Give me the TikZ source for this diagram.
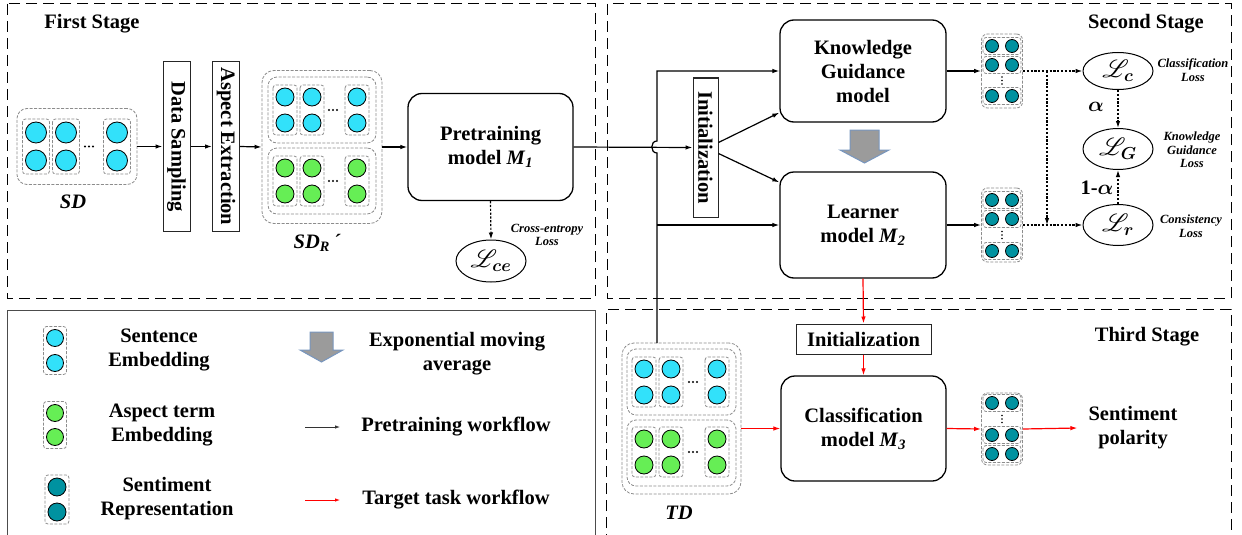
\documentclass[tikz,border=0pt]{standalone}
\usepackage{fontspec}
\setmainfont{Liberation Serif}
\usepackage{amsmath,bm}
\usepackage{mathrsfs}
\usetikzlibrary{arrows.meta,shapes.geometric,calc}
\definecolor{cyanc}{RGB}{50,225,250}
\definecolor{greenc}{RGB}{102,238,85}
\definecolor{tealc}{RGB}{0,146,160}
\definecolor{grpgray}{RGB}{140,140,140}
\definecolor{emafill}{RGB}{155,155,155}
\definecolor{emaedge}{RGB}{120,150,190}
\newcommand{\embcol}[5]{%
  \draw[grp, rounded corners=3pt] ({#1-#4-3},{#2-#3-#4-3}) rectangle ({#1+#4+3},{#2+#3+#4+3});
  \draw[circ, fill=#5] (#1,{#2-#3}) circle[radius=#4];
  \draw[circ, fill=#5] (#1,{#2+#3}) circle[radius=#4];
}
\newcommand{\tealrow}[2]{%
  \draw[grp, rounded corners=3pt] ({#1-19},{#2-8.5}) rectangle ({#1+19},{#2+8.5});
  \draw[circ, fill=tealc] ({#1-10},#2) circle[radius=6.5];
  \draw[circ, fill=tealc] ({#1+10},#2) circle[radius=6.5];
}
\newcommand{\mydotsh}[2]{\foreach \k in {-4,0,4}{\fill ({#1+\k},#2) circle[radius=1.1];}}
\newcommand{\mydotsv}[2]{\foreach \k in {-3.5,0,3.5}{\fill (#1,{#2+\k}) circle[radius=0.8];}}
\newcommand{\emaarrow}[6]{% cx, top, stem half, head half, stem h, head h
  \draw[fill=emafill, draw=emaedge, line width=1pt, line join=miter]
    ({#1-#3},#2) -- ({#1+#3},#2) -- ({#1+#3},{#2+#5}) -- ({#1+#4},{#2+#5})
    -- (#1,{#2+#5+#6}) -- ({#1-#4},{#2+#5}) -- ({#1-#3},{#2+#5}) -- cycle;
}
\begin{document}
\begin{tikzpicture}[x=1pt,y=-1pt,
  lbl/.style={font=\fontsize{20.5}{24}\selectfont\bfseries, align=center},
  small/.style={font=\fontsize{12.5}{13.5}\selectfont\bfseries\itshape, align=center},
  mbox/.style={lbl, draw, line width=1.3pt, rounded corners=14pt, inner sep=0pt},
  pbox/.style={lbl, draw=black!85, line width=1pt, inner sep=0pt},
  grp/.style={draw=grpgray, dash pattern=on 3pt off 1.5pt, line width=0.8pt},
  circ/.style={draw=black, line width=0.8pt},
  stage/.style={draw=black, dash pattern=on 11pt off 6pt, line width=1pt},
  lossell/.style={ellipse, draw, line width=1pt, inner sep=0pt, font=\fontsize{24}{26}\selectfont},
  arr/.style={-{Latex[length=7pt,width=4.5pt]}, line width=1.2pt},
  dotarr/.style={-{Latex[length=7pt,width=4.5pt]}, line width=1.2pt, dash pattern=on 2.2pt off 1.6pt},
  redarr/.style={-{Latex[length=7pt,width=4.5pt]}, line width=1.2pt, red},
]
\useasboundingbox (0,0) rectangle (1242,535);

% stage frames
\draw[stage] (7,4) rectangle (595,298);
\draw[stage] (607,4) rectangle (1231,298);
\draw[stage] (606,545) -- (606,309) -- (1231,309) -- (1231,545);
\draw[draw=black!70, line width=1pt] (7,545) -- (7,310) -- (595,310) -- (595,545);

\node[lbl] (t1) at (92,24) {First Stage};
\node[lbl] (t2) at (1146,24) {Second Stage};
\node[lbl] (t3) at (1147,337) {Third Stage};

% SD group
\node[grp, rounded corners=10pt, minimum width=120pt, minimum height=76pt] (sd) at (77,146.5) {};
\embcol{36}{146.5}{14}{10.5}{cyanc}
\embcol{66}{146.5}{14}{10.5}{cyanc}
\embcol{117}{146.5}{14}{10.5}{cyanc}
\mydotsh{89}{146.5}
\node[lbl, font=\fontsize{20.5}{24}\selectfont\bfseries\itshape] (sdl) at (73,202) {SD};

% rotated boxes
\node[pbox, rotate=-90, minimum width=169pt, minimum height=27pt] (ds) at (176.5,146.5) {Data Sampling};
\node[pbox, rotate=-90, minimum width=169pt, minimum height=27pt] (ae) at (226,146.5) {Aspect Extraction};

% SDR group
\node[grp, rounded corners=12pt, minimum width=120pt, minimum height=153pt] (sdr) at (322,147) {};
\node[grp, rounded corners=9pt, minimum width=108pt, minimum height=66pt] (sdra) at (322,110) {};
\node[grp, rounded corners=9pt, minimum width=108pt, minimum height=66pt] (sdrb) at (322,181) {};
\embcol{285}{110}{13}{9}{cyanc}
\embcol{312}{110}{13}{9}{cyanc}
\embcol{357}{110}{13}{9}{cyanc}
\embcol{285}{181}{13}{9}{greenc}
\embcol{312}{181}{13}{9}{greenc}
\embcol{357}{181}{13}{9}{greenc}
\mydotsh{333}{110}
\mydotsh{333}{181}
\node[lbl, font=\fontsize{20.5}{24}\selectfont\bfseries\itshape] (sdrl) at (317,243) {SD\textsubscript{R}\,´};

% pretraining
\node[mbox, minimum width=165pt, minimum height=107pt] (pre) at (490.5,147) {Pretraining\\model \textit{M}\textsubscript{\textit{1}}};
\node[lossell, minimum width=70pt, minimum height=42pt] (lce) at (491,261) {$\mathscr{L}_{\boldsymbol{ce}}$};
\node[small] (lcet) at (547,235) {Cross-entropy\\Loss};

% second stage
\node[pbox, rotate=-90, minimum width=139pt, minimum height=25pt] (init1) at (705.5,147.5) {Initialization};
\node[mbox, minimum width=166pt, minimum height=102pt] (kg) at (863,71) {Knowledge\\Guidance\\model};
\node[mbox, minimum width=166pt, minimum height=106pt] (lrn) at (863,225) {Learner\\model \textit{M}\textsubscript{\textit{2}}};
\emaarrow{864.5}{130}{14.5}{24.5}{20}{13}

\node[grp, rounded corners=6pt, minimum width=41pt, minimum height=74pt] (tg1) at (1002,71) {};
\tealrow{1002}{46}
\tealrow{1002}{65}
\mydotsv{1002}{80.5}
\tealrow{1002}{96}
\node[grp, rounded corners=6pt, minimum width=41pt, minimum height=74pt] (tg2) at (1002,225) {};
\tealrow{1002}{200}
\tealrow{1002}{219}
\mydotsv{1002}{235}
\tealrow{1002}{251}

\node[lossell, minimum width=70pt, minimum height=37pt] (lc) at (1118,71) {$\mathscr{L}_{\boldsymbol{c}}$};
\node[lossell, minimum width=70pt, minimum height=41pt] (lg) at (1118,149) {$\mathscr{L}_{\boldsymbol{G}}$};
\node[lossell, minimum width=70pt, minimum height=41pt] (lr) at (1118,225) {$\mathscr{L}_{\boldsymbol{r}}$};
\node[small] (lct) at (1193,70) {Classification\\Loss};
\node[small] (lgt) at (1192,150) {Knowledge\\Guidance\\Loss};
\node[small] (lrt) at (1191,226) {Consistency\\Loss};
\node[lbl] (alab) at (1096,107) {$\boldsymbol{\alpha}$};
\node[lbl] (blab) at (1097,188) {1-$\boldsymbol{\alpha}$};

% third stage
\node[grp, rounded corners=12pt, minimum width=119pt, minimum height=151pt] (td) at (681.5,418.5) {};
\node[grp, rounded corners=9pt, minimum width=109pt, minimum height=66pt] (tda) at (681.5,382) {};
\node[grp, rounded corners=9pt, minimum width=109pt, minimum height=66pt] (tdb) at (681.5,453) {};
\embcol{644}{382}{13}{9}{cyanc}
\embcol{671}{382}{13}{9}{cyanc}
\embcol{717}{382}{13}{9}{cyanc}
\embcol{644}{452}{13}{9}{greenc}
\embcol{671}{452}{13}{9}{greenc}
\embcol{717}{452}{13}{9}{greenc}
\mydotsh{693}{382}
\mydotsh{693}{452}
\node[lbl, font=\fontsize{20.5}{24}\selectfont\bfseries\itshape] (tdl) at (679,513) {TD};

\node[pbox, minimum width=135pt, minimum height=30pt] (init2) at (863.5,339) {Initialization};
\node[mbox, minimum width=165pt, minimum height=105pt] (cls) at (863.5,428.5) {Classification\\model \textit{M}\textsubscript{\textit{3}}};
\node[grp, rounded corners=6pt, minimum width=41pt, minimum height=72pt] (tg3) at (1002,429) {};
\tealrow{1002}{403}
\mydotsv{1002}{419}
\tealrow{1002}{435}
\tealrow{1002}{454}
\node[lbl, inner sep=1pt] (sp) at (1133,428) {Sentiment\\polarity};

% connectors first stage
\draw[arr] (sd.east) -- (ds.south);
\draw[arr] (ds.north) -- (ae.south);
\draw[arr] (ae.north) -- (sdr.west);
\draw[arr] (sdr.east) -- (pre.west);
\draw[dotarr] (pre.south) -- (lce.north);
\draw[arr] (pre.east) -- (init1.south);

% vertical feed line with hop
\coordinate (vbot) at (657,343);
\coordinate (vtop) at (657,71);
\coordinate (vmid) at (657,225);
\draw[arr] (vbot) -- (657,153) .. controls (650,153) and (650,141) .. (657,141) -- (vtop) -- (kg.west);
\draw[arr] (vmid) -- (lrn.west);
\draw[arr] ([yshift=5pt]init1.north) -- ([yshift=10pt]kg.south west);
\draw[arr] ([yshift=-6pt]init1.north) -- ([yshift=-11pt]lrn.north west);

\draw[arr] (kg.east) -- (tg1.west);
\draw[arr] (lrn.east) -- (tg2.west);
\draw[dotarr] (tg1.east) -- (lc.west);
\draw[dotarr] (tg2.east) -- (lr.west);
\coordinate (dj) at (1047,71);
\draw[dotarr] (dj) -- (dj |- lr.west);
\draw[dotarr] (lc.south) -- (lg.north);
\draw[dotarr] (lr.north) -- (lg.south);

% red workflow
\draw[redarr] (lrn.south) -- (init2.north);
\draw[redarr] (init2.south) -- (cls.north);
\draw[redarr] (td.east |- cls.west) -- (cls.west);
\draw[redarr] (cls.east) -- (tg3.west);
\draw[redarr] (tg3.east) -- ([xshift=-10pt]sp.west);

% legend
\embcol{55}{350.5}{12.5}{8.5}{cyanc}
\embcol{55}{425}{12}{8.5}{greenc}
\embcol{57}{499.5}{12.5}{9}{tealc}
\node[lbl] (lg1) at (159,350) {Sentence\\Embedding};
\node[lbl] (lg2) at (162,425) {Aspect term\\Embedding};
\node[lbl] (lg3) at (167,499) {Sentiment\\Representation};
\emaarrow{321.5}{332}{11.5}{21.5}{18}{12}
\node[lbl] (lg4) at (457,354) {Exponential moving\\average};
\coordinate (la1) at (305,427);
\coordinate (la2) at (340,427);
\coordinate (lb1) at (305,500);
\coordinate (lb2) at (340,500);
\draw[-{Latex[length=5pt,width=3.5pt]}, line width=0.8pt, black!80] (la1) -- (la2);
\draw[-{Latex[length=5pt,width=3.5pt]}, line width=0.8pt, red] (lb1) -- (lb2);
\node[lbl] (lg5) at (456,427) {Pretraining workflow};
\node[lbl] (lg6) at (456,500) {Target task workflow};
\end{tikzpicture}
\end{document}
